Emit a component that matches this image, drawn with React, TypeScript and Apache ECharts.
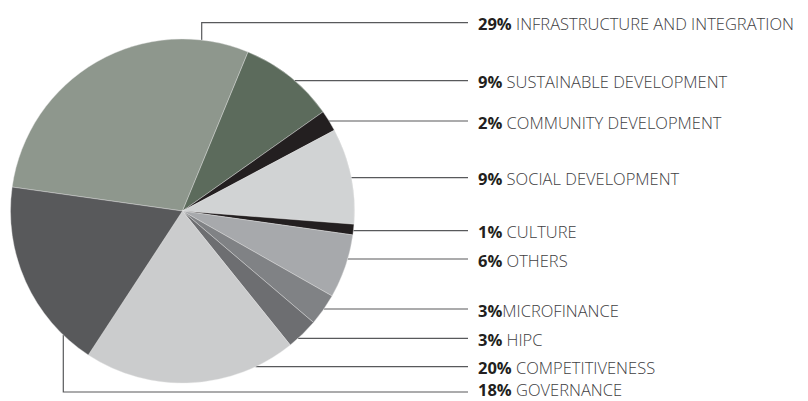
import React, { useEffect, useRef } from "react";
import * as echarts from "echarts";

const names = [
  "INFRASTRUCTURE AND INTEGRATION",
  "SUSTAINABLE DEVELOPMENT",
  "COMMUNITY DEVELOPMENT",
  "SOCIAL DEVELOPMENT",
  "CULTURE",
  "OTHERS",
  "MICROFINANCE",
  "HIPC",
  "COMPETITIVENESS",
  "GOVERNANCE",
];
const values = [29, 9, 2, 9, 1, 6, 3, 3, 20, 18];
const separators = [" ", " ", " ", " ", " ", " ", "", " ", " ", " "];
const colors = [
  "#8e978d",
  "#5c6b5c",
  "#231f20",
  "#d1d3d4",
  "#231f20",
  "#a7a9ac",
  "#808285",
  "#6d6e71",
  "#cbcccd",
  "#58595b",
];

// layout (pixels)
const CX = 182.5;
const CY = 211;
const R = 172;
const LABEL_Y = [22.7, 80.7, 121, 177.7, 230.7, 259, 309, 338.3, 366.7, 392];
const TEXT_DY = [1, 1, 1, 1, 1, 1, 1, 1, 1, -2.5];
const LINE_END_X = 468;
const TEXT_X = 478;
// vertical leader anchors (x on the pie edge) for first and last slices
const TOP_ANCHOR_X = 201.7;
const BOTTOM_ANCHOR_X = 63.3;

export default function App() {
  const ref = useRef<HTMLDivElement>(null);
  useEffect(() => {
    document.body.style.margin = "0";
    const chart = echarts.init(ref.current!, undefined, { renderer: "svg" });
    const n = values.length;
    chart.setOption({
      animation: false,
      backgroundColor: "#ffffff",
      series: [
        {
          type: "pie",
          center: [CX, CY],
          radius: R,
          startAngle: 172,
          clockwise: true,
          silent: true,
          avoidLabelOverlap: false,
          data: values.map((v, i) => ({
            value: v,
            name: names[i],
            itemStyle: { color: colors[i] },
          })),
          itemStyle: { borderWidth: 0.4, borderColor: "#e6e6e6" },
          label: {
            show: true,
            position: "outside",
            alignTo: "none",
            overflow: "none",
            formatter: (p: any) =>
              `{b|${p.value}%}{n|${separators[p.dataIndex]}${p.name}}`,
            rich: {
              b: {
                fontFamily: "Open Sans",
                fontWeight: "bold",
                fontSize: 16.5,
                lineHeight: 13,
                color: "#231f20",
              },
              n: {
                fontFamily: "Open Sans",
                fontWeight: 300,
                fontSize: 16.5,
                lineHeight: 13,
                color: "#414042",
              },
            },
          },
          labelLine: {
            show: true,
            lineStyle: { color: "#58595b", width: 1.2 },
          },
          labelLayout: (p: any) => {
            const i = p.dataIndex;
            const y = LABEL_Y[i];
            let pts: number[][];
            if (i === 0) {
              const ey =
                CY - Math.sqrt(R * R - (TOP_ANCHOR_X - CX) * (TOP_ANCHOR_X - CX));
              pts = [
                [TOP_ANCHOR_X, ey],
                [TOP_ANCHOR_X, y],
                [LINE_END_X, y],
              ];
            } else if (i === n - 1) {
              const ey =
                CY +
                Math.sqrt(R * R - (BOTTOM_ANCHOR_X - CX) * (BOTTOM_ANCHOR_X - CX));
              pts = [
                [BOTTOM_ANCHOR_X, ey],
                [BOTTOM_ANCHOR_X, y],
                [LINE_END_X, y],
              ];
            } else {
              const ex = CX + Math.sqrt(R * R - (y - CY) * (y - CY));
              pts = [
                [ex, y],
                [(ex + LINE_END_X) / 2, y],
                [LINE_END_X, y],
              ];
            }
            return {
              x: TEXT_X,
              y: y + TEXT_DY[i],
              align: "left",
              verticalAlign: "middle",
              labelLinePoints: pts,
            };
          },
        },
      ],
    });
    return () => chart.dispose();
  }, []);
  return <div ref={ref} style={{ width: 808, height: 401 }} />;
}
